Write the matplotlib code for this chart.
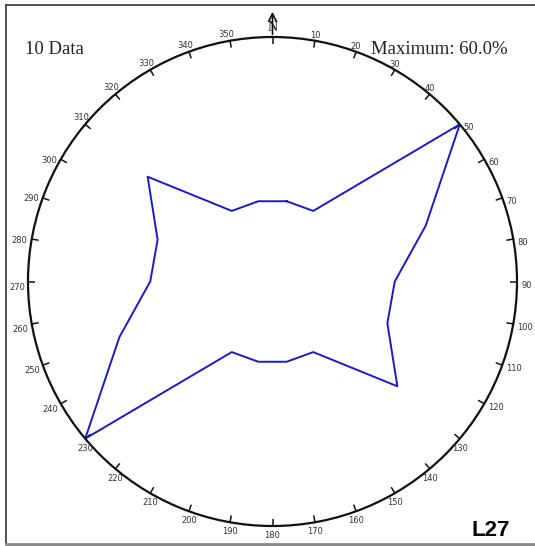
import matplotlib
matplotlib.use('Agg')
import matplotlib.pyplot as plt
import numpy as np
from matplotlib.lines import Line2D

# rose diagram: percent per 20 deg bin (bidirectional, so 190-350 mirror 10-170)
bin_centers = [10, 30, 50, 70, 90, 110, 130, 150, 170,
               190, 210, 230, 250, 270, 290, 310, 330, 350]
percent = [20, 20, 60, 40, 30, 30, 40, 20, 20,
           20, 20, 60, 40, 30, 30, 40, 20, 20]
n_data = 10
max_pct = 60.0
tick_deg = list(range(0, 360, 10))
tick_txt = ['' if d == 0 else str(d) for d in tick_deg]

W, H = 535, 546
fig = plt.figure(figsize=(W / 100, H / 100), dpi=100)
fig.patch.set_facecolor('white')

cx, cy, R = 272.5, 281.5, 244.5
ax = fig.add_axes([(cx - R) / W, (H - cy - R) / H, 2 * R / W, 2 * R / H],
                  projection='polar')
ax.set_theta_zero_location('N')
ax.set_theta_direction(-1)
ax.set_rlim(0, max_pct)
ax.grid(False)
ax.set_yticks([])
ax.set_xticks([])
ax.spines['polar'].set_linewidth(1.6)
ax.spines['polar'].set_color('#111111')

# inward ticks every 10 deg
tick_in = max_pct * (1 - 7 / R)
for d in tick_deg:
    t = np.radians(d)
    ax.plot([t, t], [tick_in, max_pct], color='#111111', lw=1.1,
            solid_capstyle='butt', clip_on=False)


def label_place(d):
    # alignment and pixel offset of a degree label, by sector
    if d <= 40:
        return 'center', 'bottom', (0, 1)
    if d <= 120:
        return 'left', 'top', (4, 1)
    if d <= 230:
        return 'center', 'top', (0, -5)
    if d <= 270:
        return 'right', 'top', (-3, -1)
    if d <= 300:
        return 'right', 'center', (-4, -1)
    return 'center', 'bottom', (-4, 2)


for d, s in zip(tick_deg, tick_txt):
    if not s:
        continue
    ha, va, off = label_place(d)
    ax.annotate(s, xy=(np.radians(d), max_pct), xytext=off,
                textcoords='offset pixels', ha=ha, va=va,
                fontsize=6, color='#333333', family='DejaVu Sans',
                annotation_clip=False)

th = np.radians(bin_centers + bin_centers[:1])
rr = percent + percent[:1]
ax.plot(th, rr, color='#1a1acc', lw=1.4)

# north arrow with N drawn over the shaft
ax.annotate('', xy=(0, max_pct * (cy - 9) / R), xytext=(0, max_pct),
            arrowprops=dict(arrowstyle='->', lw=1.2, color='#111111',
                            mutation_scale=14),
            annotation_clip=False, zorder=3)
ax.text(0, max_pct * (cy - 27.5) / R, 'N', ha='center', va='center',
        fontsize=10, family='Liberation Serif', color='#111111',
        clip_on=False, zorder=4)

fig.text(25 / W, 1 - 49 / H, f'{n_data} Data', ha='left', va='center',
         fontsize=13.5, family='Liberation Serif', color='#222222')
fig.text(508 / W, 1 - 49 / H, f'Maximum: {max_pct:.1f}%', ha='right', va='center',
         fontsize=13.5, family='Liberation Serif', color='#222222')
fig.text(510 / W, 1 - 531 / H, 'L27', ha='right', va='center',
         fontsize=16, fontweight='bold', family='Liberation Sans', color='black')

# frame lines
fig.add_artist(Line2D([6 / W, 6 / W], [1 - 5 / H, 1 - 544 / H], color='#333333', lw=1.2))
fig.add_artist(Line2D([6 / W, 1], [1 - 5 / H, 1 - 5 / H], color='#333333', lw=1.2))
fig.add_artist(Line2D([6 / W, 1], [1 - 544 / H, 1 - 544 / H], color='#888888', lw=2.0))

fig.savefig('out.png', dpi=100, facecolor='white')
